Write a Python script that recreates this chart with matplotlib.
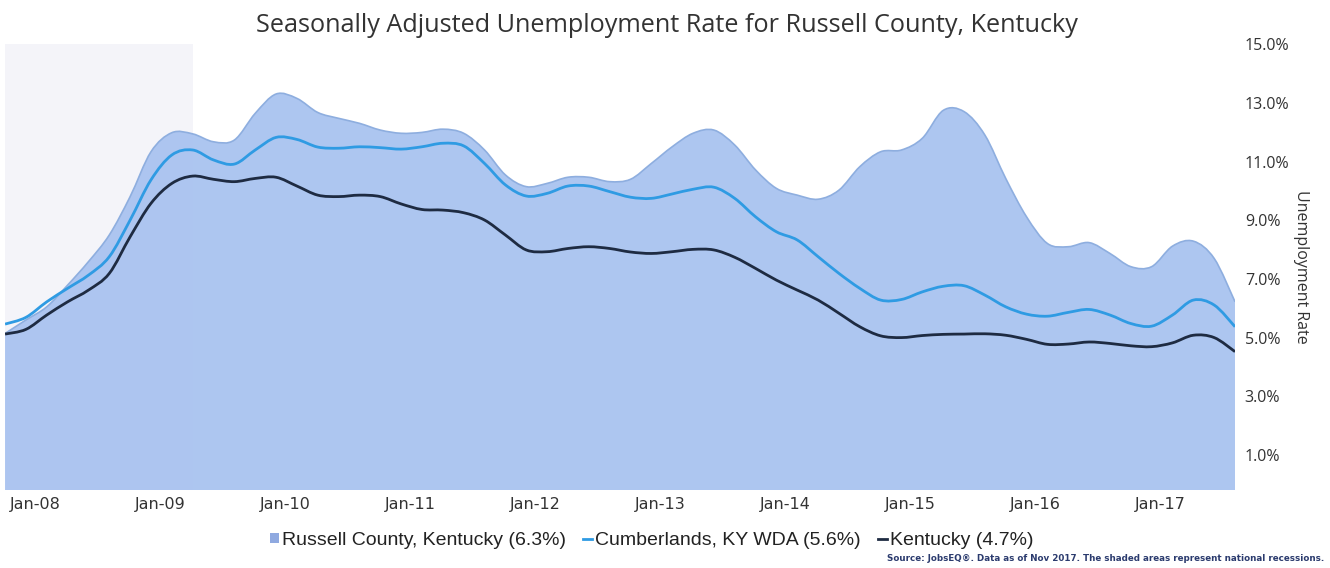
import matplotlib.pyplot as plt
import numpy as np
from matplotlib.lines import Line2D
from matplotlib.patches import Patch, PathPatch
from matplotlib.path import Path
from matplotlib.transforms import ScaledTranslation

# bi-monthly readings, Dec 2007 .. Oct 2017
start_year, start_month = 2007, 12
n_points = 60

russell = [5.14, 5.60, 6.05, 6.79, 7.59, 8.50, 9.81, 11.34, 11.99, 11.95, 11.68, 11.74,
           12.65, 13.31, 13.16, 12.68, 12.48, 12.31, 12.08, 11.97, 12.00, 12.11, 11.97, 11.40,
           10.55, 10.15, 10.26, 10.47, 10.47, 10.32, 10.40, 10.94, 11.51, 11.97, 12.08, 11.57,
           10.72, 10.09, 9.86, 9.72, 10.03, 10.83, 11.34, 11.40, 11.80, 12.75, 12.71, 11.91,
           10.43, 9.12, 8.21, 8.10, 8.24, 7.87, 7.42, 7.42, 8.12, 8.29, 7.70, 6.22]
cumberlands = [5.46, 5.69, 6.22, 6.68, 7.13, 7.76, 9.01, 10.38, 11.23, 11.40, 11.06, 10.92,
               11.40, 11.83, 11.76, 11.50, 11.46, 11.51, 11.48, 11.43, 11.51, 11.63, 11.54, 10.94,
               10.21, 9.83, 9.92, 10.17, 10.17, 9.98, 9.79, 9.75, 9.90, 10.06, 10.13, 9.75,
               9.12, 8.61, 8.33, 7.76, 7.19, 6.68, 6.28, 6.30, 6.56, 6.75, 6.77, 6.45,
               6.05, 5.80, 5.73, 5.86, 5.96, 5.77, 5.48, 5.39, 5.77, 6.28, 6.11, 5.37]
kentucky = [5.12, 5.28, 5.77, 6.22, 6.62, 7.19, 8.44, 9.58, 10.26, 10.51, 10.40, 10.32,
            10.43, 10.47, 10.17, 9.86, 9.81, 9.86, 9.81, 9.56, 9.37, 9.35, 9.26, 9.01,
            8.50, 7.99, 7.93, 8.04, 8.10, 8.04, 7.92, 7.87, 7.93, 8.01, 7.99, 7.74,
            7.36, 6.96, 6.62, 6.28, 5.83, 5.37, 5.06, 5.00, 5.07, 5.11, 5.12, 5.13,
            5.08, 4.94, 4.77, 4.78, 4.85, 4.80, 4.72, 4.69, 4.82, 5.08, 5.00, 4.52]

legend_labels = ['Russell County, Kentucky (6.3%)', 'Cumberlands, KY WDA (5.6%)',
                 'Kentucky (4.7%)']
tick_years = list(range(2008, 2018))
tick_labels = ['Jan-%02d' % (y % 100) for y in tick_years]
y_ticks = [1, 3, 5, 7, 9, 11, 13, 15]
recession = (2007 + 11 / 12, 2009 + 5 / 12)

# decimal year for each reading
t = start_year + (start_month - 1) / 12 + np.arange(n_points) * 2 / 12

area_col = '#A9C3F0'
cumb_col = '#2F9BE3'
ky_col = '#1E2B42'


def spline(x, y):
    # smooth curve through the points (like a highcharts spline series)
    p = np.column_stack([x, y])
    ext = np.vstack([p[0], p, p[-1]])
    verts = [p[0]]
    codes = [Path.MOVETO]
    for i in range(len(p) - 1):
        p0, p1, p2, p3 = ext[i], ext[i + 1], ext[i + 2], ext[i + 3]
        verts += [p1 + (p2 - p0) / 6, p2 - (p3 - p1) / 6, p2]
        codes += [Path.CURVE4] * 3
    return verts, codes


fig = plt.figure(figsize=(13.3, 5.68), dpi=100)
ax = fig.add_axes([0.0038, 0.1373, 0.9248, 0.7844])

ax.axvspan(*recession, color='#F4F4F9', zorder=0, lw=0)

v, c = spline(t, russell)
v += [(t[-1], -1), (t[0], -1), (t[0], russell[0])]
c += [Path.LINETO, Path.LINETO, Path.CLOSEPOLY]
ax.add_patch(PathPatch(Path(v, c), facecolor=area_col, edgecolor='none', alpha=0.95, zorder=1))
v, c = spline(t, russell)
ax.add_patch(PathPatch(Path(v, c), fill=False, edgecolor='#8EAEDF', lw=1.2, zorder=2))
v, c = spline(t, cumberlands)
ax.add_patch(PathPatch(Path(v, c), fill=False, edgecolor=cumb_col, lw=2.0, zorder=3))
v, c = spline(t, kentucky)
ax.add_patch(PathPatch(Path(v, c), fill=False, edgecolor=ky_col, lw=2.0, zorder=4))

ax.set_xlim(t[0], t[-1])
ax.set_ylim(-0.2, 15.0)

for s in ax.spines.values():
    s.set_visible(False)

ax.yaxis.tick_right()
ax.set_yticks(y_ticks)
ax.set_yticklabels(['%.1f%%' % v for v in y_ticks], fontsize=11.5, color='#333333',
                   family='Open Sans')
ax.tick_params(axis='y', length=0, pad=7)
ax.yaxis.set_label_position('right')
ax.set_ylabel('Unemployment Rate', rotation=270, fontsize=11.5, color='#333333',
              family='Open Sans', labelpad=14)

ax.set_xticks(tick_years)
ax.set_xticklabels(tick_labels, fontsize=11.5, color='#333333', ha='left',
                   family=['Liberation Sans Narrow', 'DejaVu Sans'])
ax.tick_params(axis='x', length=0, pad=5)
offset = ScaledTranslation(-6 / 100, 0, fig.dpi_scale_trans)
for lab in ax.get_xticklabels():
    lab.set_transform(lab.get_transform() + offset)

fig.text(0.5015, 0.955, 'Seasonally Adjusted Unemployment Rate for Russell County, Kentucky',
         ha='center', va='center', fontsize=18.2, color='#333333', family='Open Sans')

handles = [Patch(facecolor='#8FA9E0', edgecolor='none'),
           Line2D([], [], color=cumb_col, lw=2),
           Line2D([], [], color=ky_col, lw=2)]
leg = fig.legend(handles, legend_labels, loc='center', bbox_to_anchor=(0.49, 0.049),
                 ncol=3, frameon=False, handlelength=0.45, handleheight=0.45,
                 handletextpad=0.15, columnspacing=0.9,
                 prop={'family': 'Liberation Sans', 'size': 14})
for txt in leg.get_texts():
    txt.set_color('#222222')

fig.text(0.996, 0.016, 'Source: JobsEQ®. Data as of Nov 2017. The shaded areas represent national recessions.',
         ha='right', va='center', fontsize=6.3, color='#2B3B6E', fontweight='bold',
         family=['Liberation Sans Narrow', 'DejaVu Sans'])

fig.savefig('out.png', dpi=100)
